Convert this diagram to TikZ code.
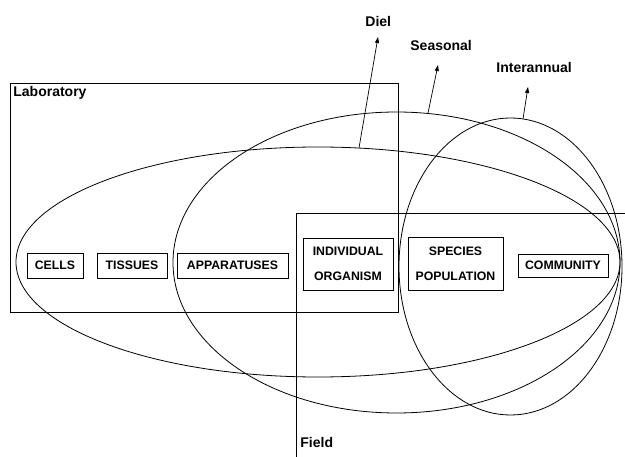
\documentclass[tikz,border=0pt]{standalone}
\usepackage{fontspec}
\setmainfont{Liberation Sans}
\usetikzlibrary{arrows.meta}
\begin{document}
\begin{tikzpicture}[x=1pt,y=-1pt,line width=0.8pt,
  lvl/.style={draw,line width=0.8pt,inner sep=0pt,align=center,font=\fontsize{12.3}{25}\selectfont\bfseries},
  lbl/.style={anchor=base west,inner sep=0pt,font=\fontsize{14}{16}\selectfont\bfseries},
  arr/.style={-{Triangle[length=6pt,width=4pt]},line width=0.7pt}]
\useasboundingbox (0,0) rectangle (625,457);
% Laboratory frame
\draw (10,83) rectangle (398,312);
\node[lbl] (lab) at (13,97) {Laboratory};
% Field frame
\coordinate (fA) at (625,213);
\coordinate (fB) at (296,213);
\coordinate (fC) at (296,457);
\draw (fA) -- (fB) -- (fC);
\node[lbl] (field) at (300,448) {Field};
% ellipses
\draw (318,262) ellipse [x radius=302, y radius=115];
\draw (396.5,262.5) ellipse [x radius=223.5, y radius=150.5];
\draw (510.5,266.5) ellipse [x radius=111.5, y radius=148.5];
% level boxes
\node[lvl,minimum width=56,minimum height=25] (cells) at (55,265.5) {CELLS};
\node[lvl,minimum width=70,minimum height=25] (tissues) at (132,265.5) {TISSUES};
\node[lvl,minimum width=111,minimum height=25] (app) at (232.5,265.5) {APPARATUSES};
\node[lvl,minimum width=90,minimum height=52] (ind) at (348,264) {INDIVIDUAL\\ORGANISM};
\node[lvl,minimum width=95,minimum height=53] (spec) at (455.5,263.5) {SPECIES\\POPULATION};
\node[lvl,minimum width=90,minimum height=23] (comm) at (563,265.5) {COMMUNITY};
% time-scale labels
\node[lbl] (diel) at (365,27) {Diel};
\node[lbl] (seas) at (410,51) {Seasonal};
\node[lbl] (inter) at (496,73) {Interannual};
\coordinate (d0) at (359,148);
\coordinate (d1) at (378,37);
\coordinate (s0) at (428,113);
\coordinate (s1) at (438,65);
\coordinate (i0) at (523,119);
\coordinate (i1) at (528,87);
\draw[arr] (d0) -- (d1);
\draw[arr] (s0) -- (s1);
\draw[arr] (i0) -- (i1);
\end{tikzpicture}
\end{document}
